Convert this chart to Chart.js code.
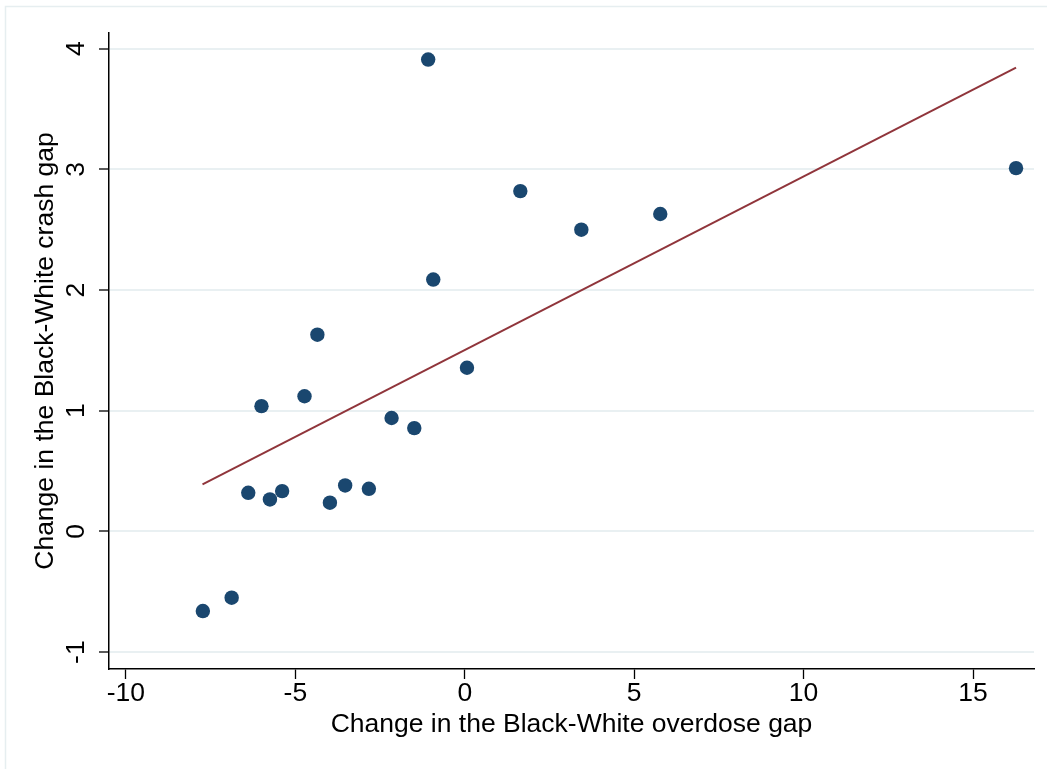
<!DOCTYPE html>
<html>
<head>
<meta charset="utf-8">
<script src="https://cdn.jsdelivr.net/npm/chart.js@4"></script>
<style>
  html, body { margin: 0; padding: 0; background: #fff; }
  #wrap { width: 1047px; height: 769px; position: relative; }
</style>
</head>
<body>
<div id="wrap"><canvas id="grafico"></canvas></div>
<script>
/* datos */
const overdoseGap = [-7.73, -6.88, -6.39, -6.00, -5.75, -5.39, -4.73, -4.35, -3.98, -3.53,
                     -2.83, -2.16, -1.49, -1.08, -0.93, 0.065, 1.64, 3.44, 5.77, 16.27];
const crashGap    = [-0.66, -0.549, 0.32, 1.038, 0.265, 0.334, 1.12, 1.63, 0.238, 0.381,
                     0.353, 0.94, 0.856, 3.91, 2.087, 1.356, 2.82, 2.50, 2.63, 3.01];

/* recta de ajuste (extremos) */
const fitX = [-7.74, 16.27];
const fitY = [0.389, 3.843];

const xTicks = [-10, -5, 0, 5, 10, 15];
const yTicks = [-1, 0, 1, 2, 3, 4];

const FUENTE = "'Liberation Sans', Arial, sans-serif";

/* etiquetas del eje Y rotadas (estilo Stata) */
const yLabelsRotadas = {
    id: "yLabelsRotadas",
    afterDraw(chart) {
        const ctx = chart.ctx;
        const y = chart.scales.y;
        ctx.save();
        ctx.fillStyle = "#000";
        ctx.font = "26.5px " + FUENTE;
        ctx.textAlign = "center";
        ctx.textBaseline = "middle";
        for (const t of y.ticks) {
            const py = y.getPixelForValue(t.value);
            ctx.save();
            ctx.translate(77, py);
            ctx.rotate(-Math.PI / 2);
            ctx.fillText(String(t.value), 0, 0);
            ctx.restore();
        }
        ctx.restore();
    }
};

/* marco exterior claro */
const marco = {
    id: "marco",
    beforeDraw(chart) {
        const ctx = chart.ctx;
        ctx.save();
        ctx.fillStyle = "#fff";
        ctx.fillRect(0, 0, chart.width, chart.height);
        ctx.strokeStyle = "#e6eef0";
        ctx.lineWidth = 1.5;
        ctx.beginPath();
        ctx.moveTo(5.5, chart.height);
        ctx.lineTo(5.5, 6.5);
        ctx.lineTo(chart.width, 6.5);
        ctx.stroke();
        ctx.restore();
    }
};

const puntos = overdoseGap.map((x, i) => ({ x, y: crashGap[i] }));
const recta = fitX.map((x, i) => ({ x, y: fitY[i] }));

new Chart(document.getElementById("grafico"), {
    type: "scatter",
    data: {
        datasets: [
            {
                label: "Observado",
                data: puntos,
                backgroundColor: "#1a476f",
                borderColor: "#1a476f",
                borderWidth: 0,
                pointRadius: 7.2,
                pointHoverRadius: 7.2
            },
            {
                type: "line",
                label: "Ajuste",
                data: recta,
                borderColor: "#90353b",
                borderWidth: 2,
                pointRadius: 0,
                fill: false,
                tension: 0
            }
        ]
    },
    options: {
        responsive: true,
        maintainAspectRatio: false,
        animation: false,
        layout: { padding: { top: 33, right: 13, left: 0, bottom: 0 } },
        plugins: {
            legend: { display: false },
            tooltip: { enabled: false }
        },
        scales: {
            x: {
                type: "linear",
                min: -10.5,
                max: 16.8,
                afterBuildTicks: s => { s.ticks = xTicks.map(v => ({ value: v })); },
                afterFit: s => { s.height = 100; },
                ticks: {
                    color: "#000",
                    padding: -1,
                    font: { family: FUENTE, size: 26.5 },
                    maxRotation: 0,
                    callback: v => String(v)
                },
                grid: {
                    drawOnChartArea: false,
                    drawTicks: true,
                    tickLength: 10,
                    tickColor: "#000",
                    tickWidth: 1.3
                },
                border: { display: true, color: "#000", width: 1.5 },
                title: {
                    display: true,
                    text: "Change in the Black-White overdose gap",
                    color: "#000",
                    font: { family: FUENTE, size: 26.5 },
                    padding: { top: 0, bottom: 28 }
                }
            },
            y: {
                type: "linear",
                min: -1.14,
                max: 4.13,
                afterBuildTicks: s => { s.ticks = yTicks.map(v => ({ value: v })); },
                afterFit: s => { s.width = 109; },
                ticks: { display: false },
                grid: {
                    drawOnChartArea: true,
                    color: "#e9f0f2",
                    lineWidth: 2,
                    drawTicks: true,
                    tickLength: 10,
                    tickColor: "#000",
                    tickWidth: 1.3
                },
                border: { display: true, color: "#000", width: 1.5 },
                title: {
                    display: true,
                    text: "Change in the Black-White crash gap",
                    color: "#000",
                    font: { family: FUENTE, size: 26.5 },
                    padding: { top: 30, bottom: 0 }
                }
            }
        }
    },
    plugins: [marco, yLabelsRotadas]
});
</script>
</body>
</html>
